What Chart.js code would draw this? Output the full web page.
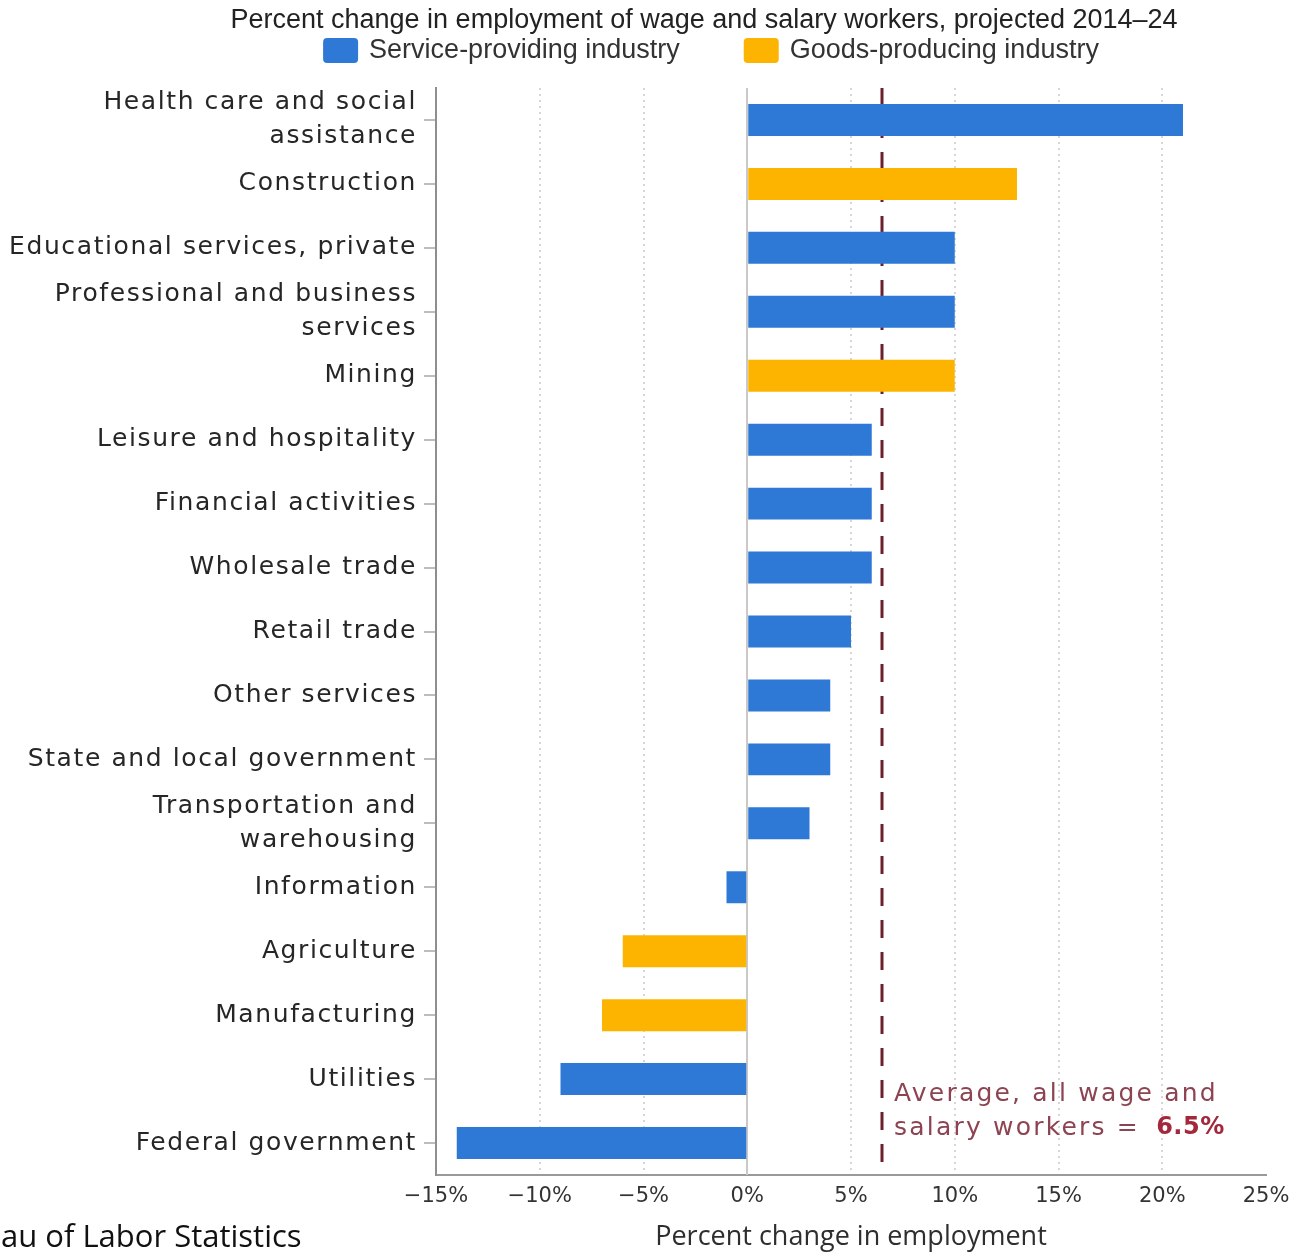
<!DOCTYPE html>
<html>
<head>
<meta charset="utf-8">
<script src="https://cdn.jsdelivr.net/npm/chart.js@4"></script>
<style>
  html, body { margin: 0; padding: 0; background: #ffffff; }
  canvas { display: block; }
</style>
</head>
<body>
<canvas id="chart" width="1297" height="1254"></canvas>
<script>
// Projected percent change in employment, 2014–24, by industry
const industries = [
  ['Health care and social', 'assistance'],
  'Construction',
  'Educational services, private',
  ['Professional and business', 'services'],
  'Mining',
  'Leisure and hospitality',
  'Financial activities',
  'Wholesale trade',
  'Retail trade',
  'Other services',
  'State and local government',
  ['Transportation and', 'warehousing'],
  'Information',
  'Agriculture',
  'Manufacturing',
  'Utilities',
  'Federal government'
];
const serviceChange = [21, null, 10, 10, null, 6, 6, 6, 5, 4, 4, 3, -1, null, null, -9, -14];
const goodsChange   = [null, 13, null, null, 10, null, null, null, null, null, null, null, null, -6, -7, null, null];
const averageChange = 6.5;
const seriesNames = ['Service-providing industry', 'Goods-producing industry'];
const xRange = [-15, 25];
const xStep = 5;

const BLUE = '#2e79d6';
const GOLD = '#fcb400';
const AVG_COLOR = '#6e1f2c';

const fmtPct = v => (v < 0 ? '\u2212' + Math.abs(v) : String(v)) + '%';

// Wider tracking for the industry names on the category axis
const trackedLabels = {
  id: 'trackedLabels',
  beforeDraw(chart) {
    const s = chart.scales.y;
    if (s && !s.__tracked) {
      const orig = s.drawLabels;
      s.drawLabels = function (area) {
        const c = this.ctx;
        const prev = c.letterSpacing;
        c.letterSpacing = '1.6px';
        orig.call(this, area);
        c.letterSpacing = prev || '0px';
      };
      s.__tracked = true;
    }
  }
};

// Zero line, average reference line, header, legend, note and source line
const decor = {
  id: 'decor',
  beforeDatasetsDraw(chart) {
    const { ctx, chartArea: a, scales: { x } } = chart;
    ctx.save();
    const x0 = Math.round(x.getPixelForValue(0));
    ctx.strokeStyle = '#c9c9c9';
    ctx.lineWidth = 2;
    ctx.beginPath();
    ctx.moveTo(x0, a.top);
    ctx.lineTo(x0, a.bottom);
    ctx.stroke();

    const xa = Math.round(x.getPixelForValue(averageChange));
    ctx.strokeStyle = AVG_COLOR;
    ctx.lineWidth = 3;
    ctx.setLineDash([18, 14]);
    ctx.beginPath();
    ctx.moveTo(xa, a.top);
    ctx.lineTo(xa, a.bottom);
    ctx.stroke();
    ctx.restore();
  },
  afterDraw(chart) {
    const { ctx, scales: { x } } = chart;
    const headCenter = 708;
    ctx.save();

    // Heading
    ctx.fillStyle = '#222222';
    ctx.font = '27px "Liberation Sans", Arial, sans-serif';
    ctx.textAlign = 'center';
    ctx.textBaseline = 'middle';
    ctx.fillText('Percent change in employment of wage and salary workers, projected 2014\u201324', headCenter - 4, 21);

    // Legend
    const ds = chart.data.datasets;
    const boxW = 35, boxH = 25, boxGap = 11, itemGap = 64;
    ctx.textAlign = 'left';
    const widths = ds.map(d => ctx.measureText(d.label).width);
    const total = widths.reduce((s, w) => s + boxW + boxGap + w, 0) + itemGap * (ds.length - 1);
    let lx = headCenter + 3 - total / 2;
    ds.forEach((d, i) => {
      ctx.fillStyle = d.backgroundColor;
      ctx.beginPath();
      ctx.roundRect(lx, 38, boxW, boxH, 4);
      ctx.fill();
      ctx.fillStyle = '#333333';
      ctx.fillText(d.label, lx + boxW + boxGap, 51);
      lx += boxW + boxGap + widths[i] + itemGap;
    });

    // Note beside the average line
    const nx = Math.round(x.getPixelForValue(averageChange)) + 12;
    ctx.letterSpacing = '2.2px';
    ctx.font = '25px "DejaVu Sans", sans-serif';
    ctx.fillStyle = '#8d4452';
    ctx.fillText('Average, all wage and', nx, 1094);
    const first = 'salary workers = ';
    ctx.fillText(first, nx, 1128);
    const fw = ctx.measureText(first).width;
    ctx.font = 'bold 24px "DejaVu Sans", sans-serif';
    ctx.letterSpacing = '0.5px';
    ctx.fillStyle = '#a3283c';
    ctx.fillText(averageChange + '%', nx + fw + 6, 1128);
    ctx.letterSpacing = '0px';

    // Source line
    ctx.font = '31px "Open Sans", sans-serif';
    ctx.fillStyle = '#111111';
    ctx.fillText('au of Labor Statistics', 1, 1238);
    ctx.restore();
  }
};

new Chart(document.getElementById('chart'), {
  type: 'bar',
  data: {
    labels: industries,
    datasets: [
      { label: seriesNames[0], data: serviceChange, backgroundColor: BLUE },
      { label: seriesNames[1], data: goodsChange, backgroundColor: GOLD }
    ]
  },
  options: {
    indexAxis: 'y',
    responsive: false,
    animation: false,
    devicePixelRatio: 1,
    grouped: false,
    barPercentage: 0.5,
    categoryPercentage: 1.0,
    layout: { padding: { top: 88, right: 31, bottom: 0, left: 0 } },
    plugins: {
      legend: { display: false },
      title: { display: false },
      tooltip: { enabled: false }
    },
    scales: {
      x: {
        min: xRange[0],
        max: xRange[1],
        ticks: {
          stepSize: xStep,
          callback: v => fmtPct(v),
          font: { family: '"DejaVu Sans", sans-serif', size: 21 },
          color: '#333333',
          padding: 9
        },
        grid: {
          color: c => {
            const v = c.tick ? c.tick.value : null;
            return (v === xRange[0] || v === 0 || v === xRange[1]) ? 'rgba(0,0,0,0)' : '#d6d6d6';
          },
          lineWidth: 2,
          drawTicks: false
        },
        border: { display: true, color: '#9a9a9a', width: 2, dash: [2, 4] },
        title: {
          display: true,
          text: 'Percent change in employment',
          font: { family: '"Open Sans", sans-serif', size: 27, lineHeight: 1.1 },
          color: '#2e2e2e',
          padding: { top: 0, bottom: 2 }
        },
        afterFit(s) { s.height = 79; s.paddingLeft = 0; s.paddingRight = 0; }
      },
      y: {
        ticks: {
          autoSkip: false,
          font: { family: '"DejaVu Sans", sans-serif', size: 25, lineHeight: 1.36 },
          color: '#262626',
          padding: 7
        },
        grid: {
          offset: false,
          drawOnChartArea: false,
          drawTicks: true,
          tickLength: 12,
          color: '#bdbdbd',
          lineWidth: 2
        },
        border: { display: true, color: '#8e8e8e', width: 2 },
        afterFit(s) { s.width = 436; s.paddingTop = 0; s.paddingBottom = 0; }
      }
    }
  },
  plugins: [trackedLabels, decor]
});
</script>
</body>
</html>
